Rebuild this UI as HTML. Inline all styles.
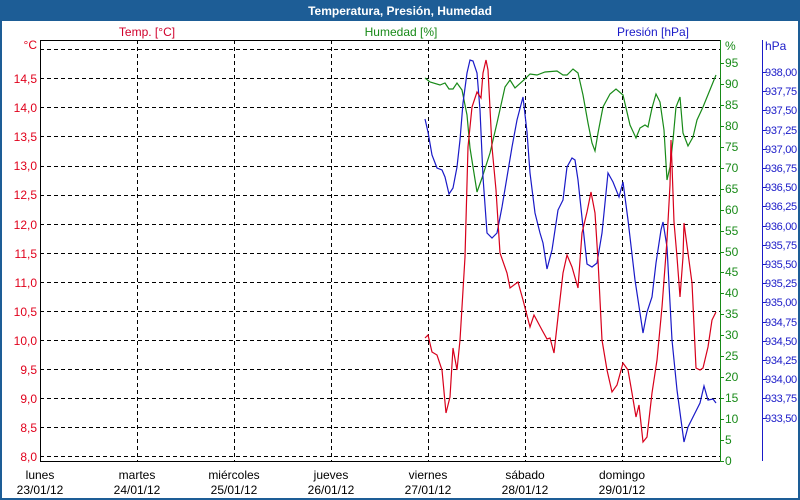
<!DOCTYPE html>
<html><head><meta charset="utf-8"><style>
body{margin:0;width:800px;height:500px;overflow:hidden;background:#fff}
svg{display:block;font-family:"Liberation Sans",sans-serif;font-size:12px}
</style></head><body>
<svg width="800" height="500" viewBox="0 0 800 500" xmlns="http://www.w3.org/2000/svg">
<rect x="0" y="0" width="800" height="500" fill="#1d5d96"/>
<rect x="2" y="21" width="796" height="477" fill="#fff"/>
<text x="400" y="15" fill="#fff" font-weight="bold" text-anchor="middle">Temperatura, Presión, Humedad</text>
<text x="147" y="36" fill="#d0002b" text-anchor="middle">Temp. [°C]</text>
<text x="401" y="36" fill="#188a18" text-anchor="middle">Humedad [%]</text>
<text x="653" y="36" fill="#1a1ac8" text-anchor="middle">Presión [hPa]</text>
<g stroke="#000" stroke-width="1" stroke-dasharray="4,3" fill="none">
<path d="M40 49.5H720M40 78.5H720M40 107.5H720M40 136.5H720M40 166.5H720M40 195.5H720M40 224.5H720M40 253.5H720M40 282.5H720M40 311.5H720M40 340.5H720M40 369.5H720M40 398.5H720M40 427.5H720M40 456.5H720"/>
<path d="M137.5 40V461M234.5 40V461M331.5 40V461M428.5 40V461M525.5 40V461M622.5 40V461"/>
</g>
<path d="M40.5 40V461.5H720M40 40.5H720" stroke="#000" fill="none"/>
<path d="M720.5 40V461" stroke="#188a18" fill="none"/>
<path d="M762.5 40V461" stroke="#1a1ac8" fill="none"/>
<g fill="#e0001b" text-anchor="end">
<text x="37" y="49">°C</text>
<text x="37" y="83">14,5</text><text x="37" y="112">14,0</text><text x="37" y="141">13,5</text><text x="37" y="170">13,0</text><text x="37" y="199">12,5</text><text x="37" y="229">12,0</text><text x="37" y="258">11,5</text><text x="37" y="287">11,0</text><text x="37" y="316">10,5</text><text x="37" y="345">10,0</text><text x="37" y="374">9,5</text><text x="37" y="403">9,0</text><text x="37" y="432">8,5</text><text x="37" y="461">8,0</text>
</g>
<g stroke="#188a18"><path d="M720 63.5h4M720 84.5h4M720 105.5h4M720 126.5h4M720 147.5h4M720 168.5h4M720 189.5h4M720 210.5h4M720 231.5h4M720 252.5h4M720 272.5h4M720 293.5h4M720 314.5h4M720 335.5h4M720 356.5h4M720 377.5h4M720 398.5h4M720 419.5h4M720 440.5h4M720 461.5h4"/></g>
<g fill="#188a18">
<text x="725" y="50">%</text>
<text x="725" y="67">95</text><text x="725" y="88">90</text><text x="725" y="109">85</text><text x="725" y="130">80</text><text x="725" y="151">75</text><text x="725" y="172">70</text><text x="725" y="193">65</text><text x="725" y="214">60</text><text x="725" y="235">55</text><text x="725" y="256">50</text><text x="725" y="276">45</text><text x="725" y="297">40</text><text x="725" y="318">35</text><text x="725" y="339">30</text><text x="725" y="360">25</text><text x="725" y="381">20</text><text x="725" y="402">15</text><text x="725" y="423">10</text><text x="725" y="444">5</text><text x="725" y="465">0</text>
</g>
<g stroke="#1a1ac8"><path d="M762 72.5h4M762 91.5h4M762 110.5h4M762 130.5h4M762 149.5h4M762 168.5h4M762 187.5h4M762 206.5h4M762 226.5h4M762 245.5h4M762 264.5h4M762 283.5h4M762 302.5h4M762 322.5h4M762 341.5h4M762 360.5h4M762 379.5h4M762 398.5h4M762 418.5h4"/></g>
<g fill="#1a1ac8" font-size="11" letter-spacing="-0.3">
<text x="765" y="50" font-size="12" letter-spacing="0">hPa</text>
<text x="765" y="76">938,00</text><text x="765" y="95">937,75</text><text x="765" y="114">937,50</text><text x="765" y="134">937,25</text><text x="765" y="153">937,00</text><text x="765" y="172">936,75</text><text x="765" y="191">936,50</text><text x="765" y="210">936,25</text><text x="765" y="230">936,00</text><text x="765" y="249">935,75</text><text x="765" y="268">935,50</text><text x="765" y="287">935,25</text><text x="765" y="306">935,00</text><text x="765" y="326">934,75</text><text x="765" y="345">934,50</text><text x="765" y="364">934,25</text><text x="765" y="383">934,00</text><text x="765" y="402">933,75</text><text x="765" y="422">933,50</text>
</g>
<g fill="#000" text-anchor="middle">
<text x="40" y="479">lunes</text><text x="40" y="494">23/01/12</text>
<text x="137" y="479">martes</text><text x="137" y="494">24/01/12</text>
<text x="234" y="479">miércoles</text><text x="234" y="494">25/01/12</text>
<text x="331" y="479">jueves</text><text x="331" y="494">26/01/12</text>
<text x="428" y="479">viernes</text><text x="428" y="494">27/01/12</text>
<text x="525" y="479">sábado</text><text x="525" y="494">28/01/12</text>
<text x="622" y="479">domingo</text><text x="622" y="494">29/01/12</text>
</g>
<g fill="none" stroke-width="1.2">
<polyline stroke="#188a18" points="425,78 430,82 440,85 445,83 449,89 453,89 457,83 462,90 467,115 470,148 477,192 482,178 490,153 497,123 505,87 510,80 515,88 525,79 530,74 537,75 545,72 557,71 563,75 567,75 573,69 578,73 583,95 588,123 592,143 595,151 598,133 603,107 610,94 616,89 623,95 630,125 636,138 640,128 645,125 648,127 652,108 656,94 660,102 664,130 667,180 670,167 673,140 676,107 680,97 683,133 688,146 693,137 697,120 703,107 716,75"/>
<polyline stroke="#1a1ac8" points="425,119 428,132 432,155 437,168 442,170 445,177 449,194 453,188 457,167 460,140 463,103 467,73 470,60 473,61 477,73 480,110 483,177 487,233 492,238 497,233 502,207 507,177 512,147 517,120 523,97 527,132 530,173 535,213 540,233 543,243 547,269 552,250 558,210 563,200 567,167 572,158 575,160 578,180 583,227 587,264 592,267 597,263 602,233 608,173 613,182 619,197 623,182 628,220 635,280 640,313 643,333 647,312 652,297 656,263 661,230 663,222 667,247 672,340 677,390 681,420 684,442 688,427 693,417 700,403 704,386 708,400 713,399 716,403"/>
<polyline stroke="#d8001b" points="425,338 428,335 432,352 437,355 442,370 446,413 450,397 453,348 457,370 460,340 462,307 465,257 468,147 472,107 477,92 481,98 483,73 486,60 488,70 492,147 496,190 500,253 507,273 510,288 518,282 523,300 530,327 534,315 542,330 547,339 550,338 554,353 558,317 563,273 567,255 572,267 578,288 582,233 587,212 591,192 595,213 598,260 602,340 607,370 612,392 617,385 623,363 628,370 632,393 636,417 639,405 643,442 647,437 652,393 657,360 662,307 667,240 670,185 671,140 672,165 674,222 677,257 680,297 683,257 684,223 688,253 692,283 696,368 700,370 703,368 708,347 712,320 716,312"/>
</g>
</svg>
</body></html>
